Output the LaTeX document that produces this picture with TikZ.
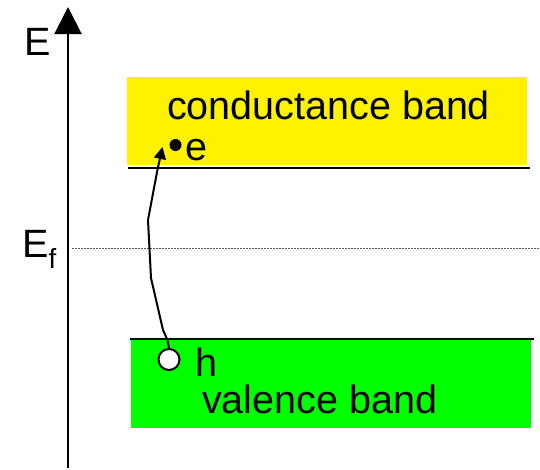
\documentclass[tikz,border=0pt]{standalone}
\usepackage{fontspec}
\setmainfont{Liberation Sans}
\usetikzlibrary{arrows.meta}
\begin{document}
\begin{tikzpicture}[x=1pt,y=-1pt,
  lbl/.style={inner sep=0pt,anchor=base west,font=\fontsize{39.5}{45}\selectfont},
  bandline/.style={line width=2pt,black},
]
\useasboundingbox (0,0) rectangle (540,469);
% bands
\fill[yellow] (127,77) rectangle (527,165);
\draw[bandline] (128,168) -- (530,168);
\fill[green] (131,340) rectangle (531,428);
\draw[bandline] (130,339) -- (534,339);
% fermi level
\draw[gray!70!black,line width=0.6pt,dash pattern=on 2pt off 1pt] (72,248) -- (540,248);
% axis
\coordinate (axb) at (68,468);
\coordinate (axt) at (68,7);
\draw[line width=2pt,-{Triangle[length=27pt,width=27pt]}] (axb) -- (axt);
% labels
\node[lbl] (E) at (24,55) {E};
\node[lbl] (Ef) at (22,257) {E\textsubscript{f}};
\node[lbl] (cb) at (167,119) {conductance band};
\node[lbl] (vb) at (202,413) {valence band};
\node[lbl] (hl) at (195,376) {h};
\node[lbl] (el) at (185,160) {e};
% particles
\node[circle,draw,line width=2pt,fill=white,minimum size=21pt,inner sep=0pt] (hole) at (169,359.5) {};
\node[circle,fill=black,minimum size=12pt,inner sep=0pt] (elec) at (175.5,145) {};
% transition
\coordinate (tip) at (162.5,147);
\draw[line width=2pt,line join=round,-{Triangle[length=12pt,width=12pt]}]
  (hole.north) -- (167.5,340) -- (163,330) -- (151,278) -- (148,220) -- (157,172) -- (tip);
\end{tikzpicture}
\end{document}
